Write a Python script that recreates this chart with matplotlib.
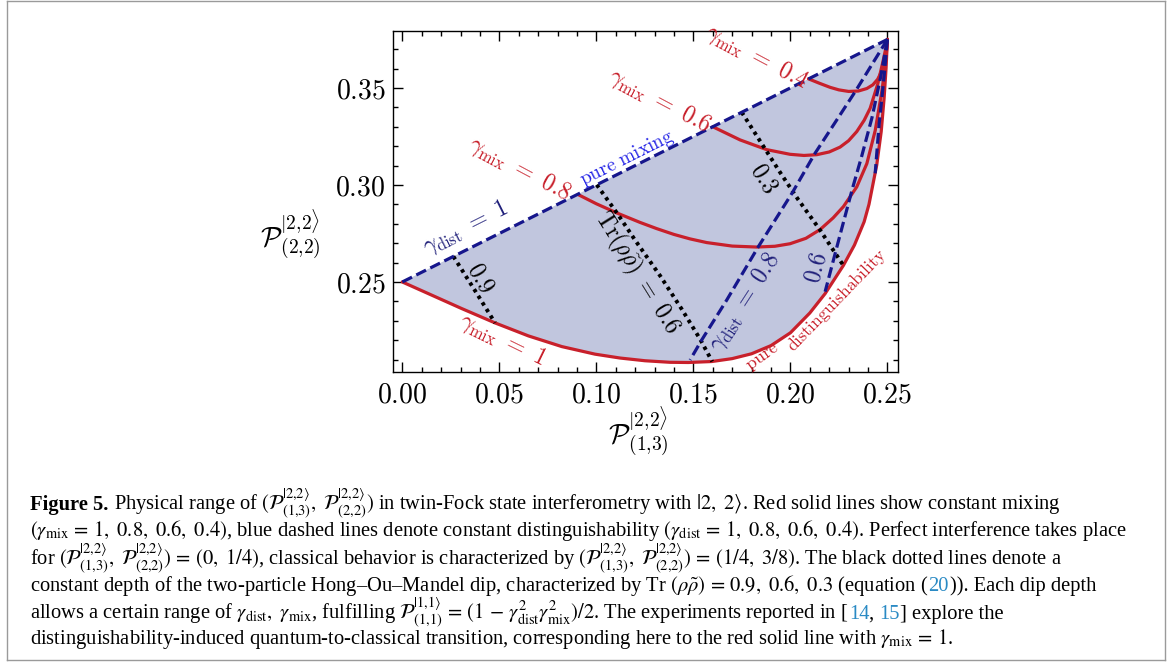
import matplotlib
matplotlib.use('Agg')
import matplotlib.pyplot as plt
import numpy as np
from matplotlib.ticker import MultipleLocator, FuncFormatter
from matplotlib.lines import Line2D

plt.rcParams['mathtext.fontset'] = 'cm'
plt.rcParams['font.family'] = ['DejaVu Serif']

# ---------------- data ----------------
# gamma_mix = 1 (pure distinguishability), lower boundary
mix10_x = [0.0000, 0.0134, 0.0306, 0.0478, 0.0650, 0.0822, 0.0993, 0.1122, 0.1251, 0.1380,
           0.1474, 0.1595, 0.1700, 0.1800, 0.1900, 0.2000, 0.2100, 0.2179, 0.2273, 0.2330,
           0.2380, 0.2405, 0.2445, 0.2468, 0.2483, 0.2493, 0.2500]
mix10_y = [0.2500, 0.2440, 0.2363, 0.2289, 0.2222, 0.2167, 0.2128, 0.2108, 0.2094, 0.2086,
           0.2085, 0.2090, 0.2105, 0.2130, 0.2172, 0.2238, 0.2340, 0.2440, 0.2585, 0.2690,
           0.2810, 0.2900, 0.3103, 0.3275, 0.3447, 0.3601, 0.3750]
# gamma_mix = 0.8
mix08_x = [0.0907, 0.1000, 0.1105, 0.1225, 0.1311, 0.1400, 0.1483, 0.1569, 0.1700, 0.1827,
           0.1920, 0.1998, 0.2080, 0.2153, 0.2220, 0.2273, 0.2342, 0.2394, 0.2437, 0.2471,
           0.2490, 0.2500]
mix08_y = [0.2950, 0.2903, 0.2856, 0.2807, 0.2775, 0.2745, 0.2722, 0.2703, 0.2685, 0.2680,
           0.2684, 0.2697, 0.2725, 0.2770, 0.2830, 0.2888, 0.2990, 0.3110, 0.3280, 0.3481,
           0.3620, 0.3750]
# gamma_mix = 0.6
mix06_x = [0.1600, 0.1741, 0.1878, 0.1998, 0.2070, 0.2136, 0.2200, 0.2256, 0.2300, 0.2342,
           0.2380, 0.2411, 0.2450, 0.2478, 0.2494, 0.2500]
mix06_y = [0.3300, 0.3232, 0.3182, 0.3158, 0.3152, 0.3156, 0.3170, 0.3195, 0.3228, 0.3275,
           0.3333, 0.3395, 0.3520, 0.3640, 0.3715, 0.3750]
# gamma_mix = 0.4
mix04_x = [0.2093, 0.2150, 0.2205, 0.2250, 0.2300, 0.2350, 0.2394, 0.2425, 0.2450, 0.2470,
           0.2486, 0.2496, 0.2500]
mix04_y = [0.3547, 0.3524, 0.3503, 0.3490, 0.3482, 0.3484, 0.3497, 0.3516, 0.3545, 0.3585,
           0.3640, 0.3700, 0.3750]

# gamma_dist lines (blue dashed)
dist10_x = [0.0000, 0.2500]
dist10_y = [0.2500, 0.3750]
dist08_x = [0.2500, 0.2334, 0.2125, 0.2010, 0.1835, 0.1672, 0.1543, 0.1483]
dist08_y = [0.3750, 0.3481, 0.3160, 0.2960, 0.2682, 0.2407, 0.2201, 0.2098]
dist06_x = [0.2500, 0.2465, 0.2420, 0.2368, 0.2318, 0.2250, 0.2179]
dist06_y = [0.3750, 0.3555, 0.3345, 0.3150, 0.2975, 0.2720, 0.2450]
dist04_x = [0.2500, 0.2482, 0.2457, 0.2437]
dist04_y = [0.3750, 0.3550, 0.3310, 0.3060]

# Tr(rho rho~) lines (black dotted)
tr09_x = [0.0263, 0.0375, 0.0478]
tr09_y = [0.2632, 0.2455, 0.2289]
tr06_x = [0.1002, 0.1110, 0.1200, 0.1330, 0.1440, 0.1535, 0.1597]
tr06_y = [0.3001, 0.2850, 0.2715, 0.2530, 0.2360, 0.2205, 0.2090]
tr03_x = [0.1749, 0.1870, 0.1950, 0.2040, 0.2150, 0.2273]
tr03_y = [0.3375, 0.3185, 0.3060, 0.2925, 0.2772, 0.2585]

xticks = [0.00, 0.05, 0.10, 0.15, 0.20, 0.25]
yticks = [0.25, 0.30, 0.35]

# ---------------- figure ----------------
W, H = 1171, 668
fig = plt.figure(figsize=(W / 100, H / 100), dpi=100)

L, R, T, B = 392.7, 897.5, 30.7, 372.0
ax = fig.add_axes([L / W, 1 - B / H, (R - L) / W, (B - T) / H])
ax.set_xlim(-0.00495, 0.2552)
ax.set_ylim(0.2036, 0.3795)

RED = '#c8202b'
NAVY = '#16168c'
FILL = '#c1c6de'

# filled physical region
ax.fill(np.r_[mix10_x, dist10_x[::-1]], np.r_[mix10_y, dist10_y[::-1]],
        color=FILL, lw=0, zorder=1)

for xs, ys in [(mix10_x, mix10_y), (mix08_x, mix08_y), (mix06_x, mix06_y), (mix04_x, mix04_y)]:
    ax.plot(xs, ys, color=RED, lw=2.3, solid_capstyle='round', solid_joinstyle='round', zorder=3)

for xs, ys in [(tr09_x, tr09_y), (tr06_x, tr06_y), (tr03_x, tr03_y)]:
    ax.plot(xs, ys, color='black', lw=2.8, linestyle=(0, (0.9, 1.1)), zorder=4)

for xs, ys in [(dist10_x, dist10_y), (dist08_x, dist08_y), (dist06_x, dist06_y), (dist04_x, dist04_y)]:
    ax.plot(xs, ys, color=NAVY, lw=2.3, linestyle=(0, (3.4, 1.5)), zorder=5)

# ticks
ax.set_xticks(xticks)
ax.set_yticks(yticks)
ax.xaxis.set_minor_locator(MultipleLocator(0.01))
ax.yaxis.set_minor_locator(MultipleLocator(0.01))
fmt = FuncFormatter(lambda v, p: r'$%.2f$' % v)
ax.xaxis.set_major_formatter(fmt)
ax.yaxis.set_major_formatter(fmt)
ax.tick_params(which='both', direction='in', top=True, right=True, width=1.0)
ax.tick_params(which='major', length=7, labelsize=20)
ax.tick_params(which='minor', length=3.5)
ax.tick_params(axis='x', which='major', pad=7)
ax.tick_params(axis='y', which='major', pad=5)
for s in ax.spines.values():
    s.set_linewidth(1.0)

fig.text(290 / W, 1 - 235 / H, r'$\mathcal{P}^{|2{,}2\rangle}_{(2{,}2)}$', ha='center', va='center', fontsize=20)
fig.text(638 / W, 1 - 432 / H, r'$\mathcal{P}^{|2{,}2\rangle}_{(1{,}3)}$', ha='center', va='center', fontsize=20)

# in-plot labels
def lab(x, y, s, rot, color, size=17):
    ax.text(x, y, s, rotation=rot, rotation_mode='anchor', ha='center', va='center',
            color=color, fontsize=size, zorder=6)

lab(0.1827, 0.3661, r'$\gamma_{\mathrm{mix}}\ =\ 0.4$', -28, RED)
lab(0.1325, 0.3435, r'$\gamma_{\mathrm{mix}}\ =\ 0.6$', -28, RED)
lab(0.0607, 0.3081, r'$\gamma_{\mathrm{mix}}\ =\ 0.8$', -28, RED)
lab(0.0517, 0.2201, r'$\gamma_{\mathrm{mix}}\ =\ 1$', -26, RED)
lab(0.1160, 0.3138, r'$\mathrm{pure\ mixing}$', 26.6, '#2424e6', 14)
lab(0.0328, 0.2782, r'$\gamma_{\mathrm{dist}}\ =\ 1$', 26.6, '#20207a')
lab(0.0404, 0.2519, r'$0.9$', -60, 'black')
lab(0.1205, 0.2548, r'$\mathrm{Tr}(\rho\tilde{\rho})\ =\ 0.6$', -58, 'black')
lab(0.1864, 0.3035, r'$0.3$', -58, 'black')
lab(0.1766, 0.2398, r'$\gamma_{\mathrm{dist}}\ =\ 0.8$', 57, '#20207a')
lab(0.2132, 0.2576, r'$0.6$', 75, '#20207a')
lab(0.1858, 0.2112, r'$\mathrm{pure}$', 36, RED, 13)
lab(0.2240, 0.2405, r'$\mathrm{distinguishability}$', 46, RED, 12.8)

# ---------------- figure frame ----------------
for (x0, y0, x1, y1) in [(7, 1, 7, 660), (1165, 1, 1165, 660), (7, 660, 1165, 660), (7, 1, 1165, 1)]:
    fig.add_artist(Line2D([x0 / W, x1 / W], [1 - y0 / H, 1 - y1 / H], color='#9a9a9a', lw=1.0))

# ---------------- caption ----------------
renderer = fig.canvas.get_renderer()
CAP = dict(fontsize=14.8, family=['Liberation Serif', 'DejaVu Serif'], math_fontfamily='stix')
CITE = '#2a8ac4'

def tw(s, **kw):
    t = fig.text(0, 0, s, **kw)
    w = t.get_window_extent(renderer).width
    t.remove()
    return w

def caption_line(x0, yb, segments):
    prefix = ''
    for s, col in segments:
        prefix += s
        core = s.strip()
        if not core:
            continue
        xr = x0 + tw(prefix.rstrip(), **CAP)
        w = tw(core, **CAP)
        fig.text((xr - w) / W, 1 - yb / H, core, ha='left', va='baseline', color=col, **CAP)

P13 = r'\mathcal{P}^{|2{,}2\rangle}_{(1{,}3)}'
P22 = r'\mathcal{P}^{|2{,}2\rangle}_{(2{,}2)}'
x0 = 30
bold = fig.text(x0 / W, 1 - 510 / H, 'Figure 5.', ha='left', va='baseline', weight='bold', **CAP)
wb = bold.get_window_extent(renderer).width
sp = tw('a b', **CAP) - tw('ab', **CAP)

caption_line(x0 + wb + sp, 510, [
    (r'Physical range of $(' + P13 + r',\ ' + P22 + r')$ in twin-Fock state interferometry with $|2,\ 2\rangle$. Red solid lines show constant mixing', 'black')])
caption_line(x0, 536, [
    (r'$(\gamma_{\mathrm{mix}}\,=\,1,\ 0.8,\ 0.6,\ 0.4)$, blue dashed lines denote constant distinguishability $(\gamma_{\mathrm{dist}}\,=\,1,\ 0.8,\ 0.6,\ 0.4)$. Perfect interference takes place', 'black')])
caption_line(x0, 565, [
    (r'for $(' + P13 + r',\ ' + P22 + r')\,=\,(0,\ 1/4)$, classical behavior is characterized by $(' + P13 + r',\ ' + P22 + r')\,=\,(1/4,\ 3/8)$. The black dotted lines denote a', 'black')])
caption_line(x0, 591, [
    (r'constant depth of the two-particle Hong–Ou–Mandel dip, characterized by Tr $(\rho\tilde{\rho})\,=\,0.9,\ 0.6,\ 0.3$ (equation (', 'black'),
    ('20', CITE),
    (')). Each dip depth', 'black')])
caption_line(x0, 619, [
    (r'allows a certain range of $\gamma_{\mathrm{dist}},\ \gamma_{\mathrm{mix}}$, fulfilling $\mathcal{P}^{|1{,}1\rangle}_{(1{,}1)}\,=\,(1\,-\,\gamma^{2}_{\mathrm{dist}}\gamma^{2}_{\mathrm{mix}})/2$. The experiments reported in [', 'black'),
    ('14', CITE),
    (',', 'black'),
    (' 15', CITE),
    ('] explore the', 'black')])
caption_line(x0, 644, [
    (r'distinguishability-induced quantum-to-classical transition, corresponding here to the red solid line with $\gamma_{\mathrm{mix}}\,=\,1$.', 'black')])

fig.savefig('out.png', dpi=100)
